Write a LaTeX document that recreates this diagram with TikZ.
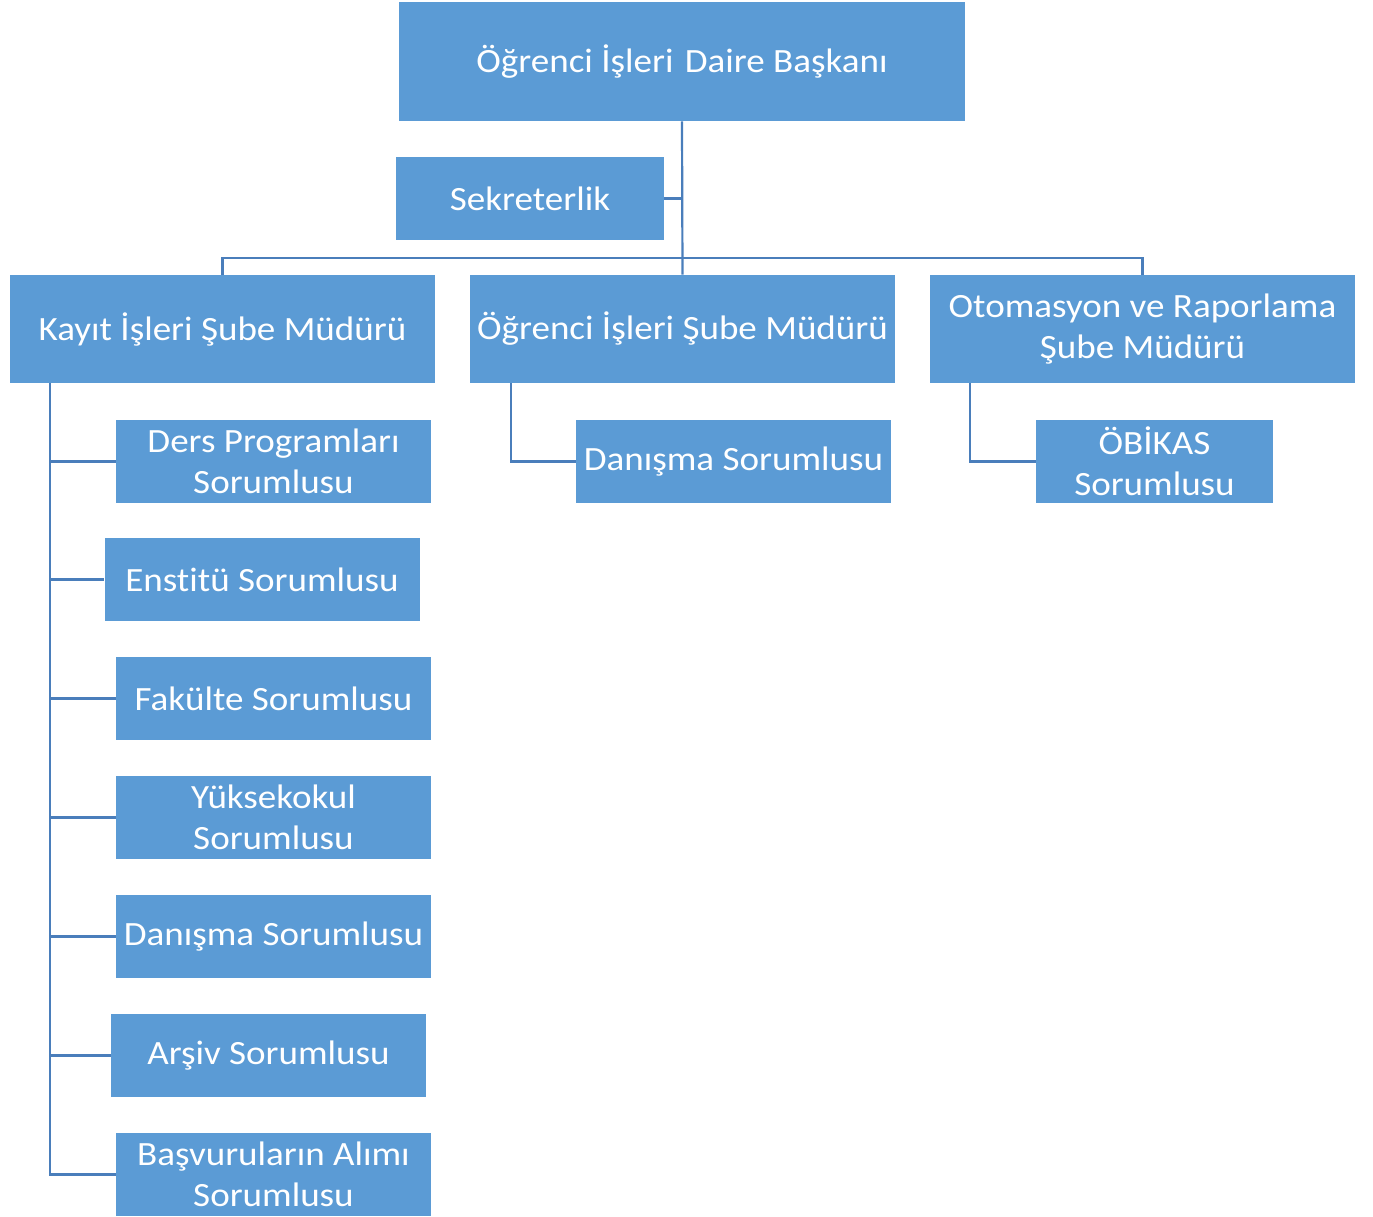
\documentclass[tikz,border=0pt]{standalone}
\usepackage{fontspec}
\setmainfont{Carlito}[FakeStretch=1.09,Ligatures=NoCommon]
\usepackage{xcolor}
\usepackage{tikz}
\usetikzlibrary{calc}

\definecolor{boxblue}{HTML}{5B9BD5}
\definecolor{lineblue}{HTML}{4A7EBB}

\begin{document}
\begin{tikzpicture}[x=0.5pt,y=-0.5pt,
        every node/.style={fill=boxblue,text=white,align=center,inner sep=0pt,
            font=\fontsize{17}{20.5}\selectfont},
        unit/.style={minimum width=212.5pt,minimum height=54pt},
        staff/.style={minimum width=157.5pt,minimum height=41.5pt},
        conn/.style={draw=lineblue,line width=1.1pt}]
        \useasboundingbox (0,0) rectangle (1373,1217);

        \node (head) [minimum width=283pt,minimum height=59.5pt] at (682,61.5) {Öğrenci İşleri\kern1.5pt\ Daire Başkanı};
        \node (sek) [minimum width=134pt,minimum height=41.5pt] at (530,198.5) {Sekreterlik};

        \node (kayit) [unit] at (222.5,329) {Kayıt İşleri Şube Müdürü};
        \node (ogrsb) [unit] at (682.5,329) {Öğrenci İşleri Şube Müdürü};
        \node (otom)  [unit] at (1142.5,329) {Otomasyon ve Raporlama\\Şube Müdürü};

        \node (ders)  [staff] at (273.5,461.5) {Ders Programları\\Sorumlusu};
        \node (enst)  [staff] at (262,579.5) {Enstitü Sorumlusu};
        \node (fak)   [staff] at (273.5,698.5) {Fakülte Sorumlusu};
        \node (yo)    [staff] at (273.5,817.5) {Yüksekokul\\Sorumlusu};
        \node (dan)   [staff] at (273.5,936.5) {Danışma Sorumlusu};
        \node (arsiv) [staff] at (268.5,1055.5) {Arşiv Sorumlusu};
        \node (basv)  [staff] at (273.5,1174.5) {Başvuruların Alımı\\Sorumlusu};

        \node (ogrdan) [staff] at (733.5,461.5) {Danışma Sorumlusu};
        \node (obikas) [staff,minimum width=118.5pt] at (1154.5,461.5) {ÖBİKAS\\Sorumlusu};

        \coordinate (hub) at (682,258);
        \draw[conn] (head.south) -- (ogrsb.north);
        \draw[conn] (sek.east) -- (sek.east -| head.south);
        \draw[conn] (kayit.north) |- (hub) -| (otom.north);

        \draw[conn] ([xshift=20pt]kayit.south west) |- (basv.west);
        \foreach \n in {ders,enst,fak,yo,dan,arsiv}
            \draw[conn] ([xshift=20pt]kayit.south west |- \n.west) -- (\n.west);
        \draw[conn] ([xshift=20.5pt]ogrsb.south west) |- (ogrdan.west);
        \draw[conn] ([xshift=20pt]otom.south west) |- (obikas.west);
    \end{tikzpicture}
\end{document}
